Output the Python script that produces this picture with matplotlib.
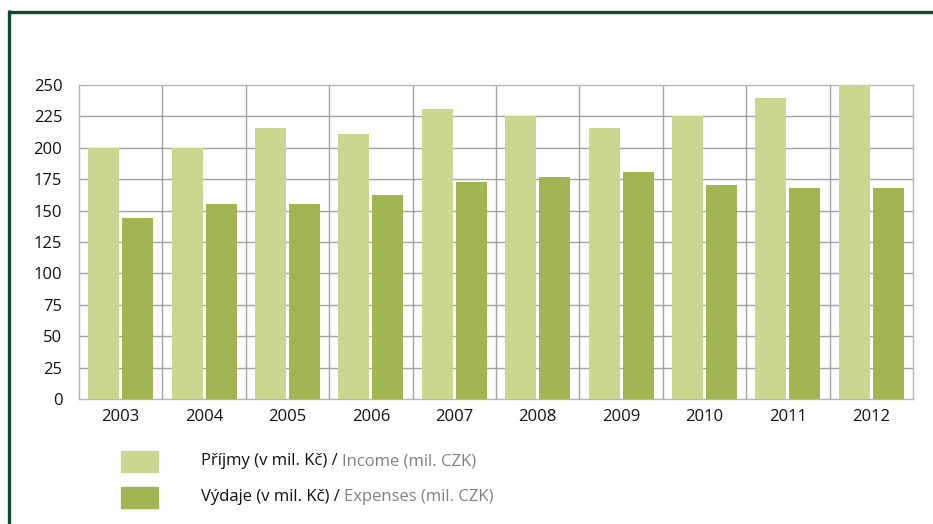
import matplotlib.pyplot as plt
import numpy as np
from matplotlib.lines import Line2D
from matplotlib.patches import Rectangle

years = ["2003", "2004", "2005", "2006", "2007", "2008", "2009", "2010", "2011", "2012"]
income = [200, 200, 215.5, 211, 231, 225, 215.5, 225.5, 239.5, 250]
expenses = [144, 155, 155, 162.5, 173, 177, 180.5, 170.5, 168, 168]
y_ticks = [0, 25, 50, 75, 100, 125, 150, 175, 200, 225, 250]

income_label = ("Příjmy (v mil. Kč) / ", "Income (mil. CZK)")
expenses_label = ("Výdaje (v mil. Kč) / ", "Expenses (mil. CZK)")

LIGHT = "#cbd690"
DARK = "#a1b553"
GRID = "#a3a3a3"
FRAME = "#124a2c"

plt.rcParams["font.family"] = ["Open Sans", "DejaVu Sans"]

W, H = 933, 524
fig = plt.figure(figsize=(W / 100, H / 100), dpi=100)

# plot area in pixels: x 79..913, y 85..399
ax = fig.add_axes([79 / W, (H - 399) / H, (913 - 79) / W, (399 - 85) / H])

x = np.arange(len(years))
bw = 0.372
gap = 0.036
ax.bar(x - (bw + gap) / 2, income, width=bw, color=LIGHT, zorder=3)
ax.bar(x + (bw + gap) / 2, expenses, width=bw, color=DARK, zorder=3)

ax.set_xlim(-0.5, len(years) - 0.5)
ax.set_ylim(0, 250)
ax.set_yticks(y_ticks)
ax.set_yticklabels([str(v) for v in y_ticks], fontsize=12, color="#111111")
ax.set_xticks(x)
ax.set_xticklabels(years, fontsize=12, color="#111111")
ax.tick_params(length=0, pad=12, axis="y")
ax.tick_params(length=0, pad=7, axis="x")

for v in y_ticks[1:-1]:
    ax.axhline(v, color=GRID, lw=1, zorder=1)
for b in np.arange(0.5, len(years) - 0.5):
    ax.axvline(b, color=GRID, lw=1, zorder=1)
for s in ax.spines.values():
    s.set_color("#b5b5b5")
    s.set_linewidth(1)

# legend drawn in figure pixels
for (black, gray), color, yc in [(income_label, LIGHT, 461), (expenses_label, DARK, 497)]:
    fig.patches.append(Rectangle((121 / W, (H - yc - 10.5) / H), 37 / W, 21 / H,
                                 transform=fig.transFigure, color=color))
    t = fig.text(201 / W, (H - yc) / H, black, fontsize=12, color="#111111", va="center")
    fig.canvas.draw()
    bb = t.get_window_extent()
    fig.text(bb.x1 / W, (H - yc) / H, gray, fontsize=12, color="#808080", va="center")

# dark green frame (top and left)
fig.add_artist(Line2D([8.5 / W, 1], [(H - 11.5) / H] * 2, color=FRAME, lw=2.4,
                      transform=fig.transFigure, solid_capstyle="butt"))
fig.add_artist(Line2D([8.5 / W] * 2, [0, (H - 10.3) / H], color=FRAME, lw=2.4,
                      transform=fig.transFigure, solid_capstyle="butt"))

fig.savefig("out.png", dpi=100)
